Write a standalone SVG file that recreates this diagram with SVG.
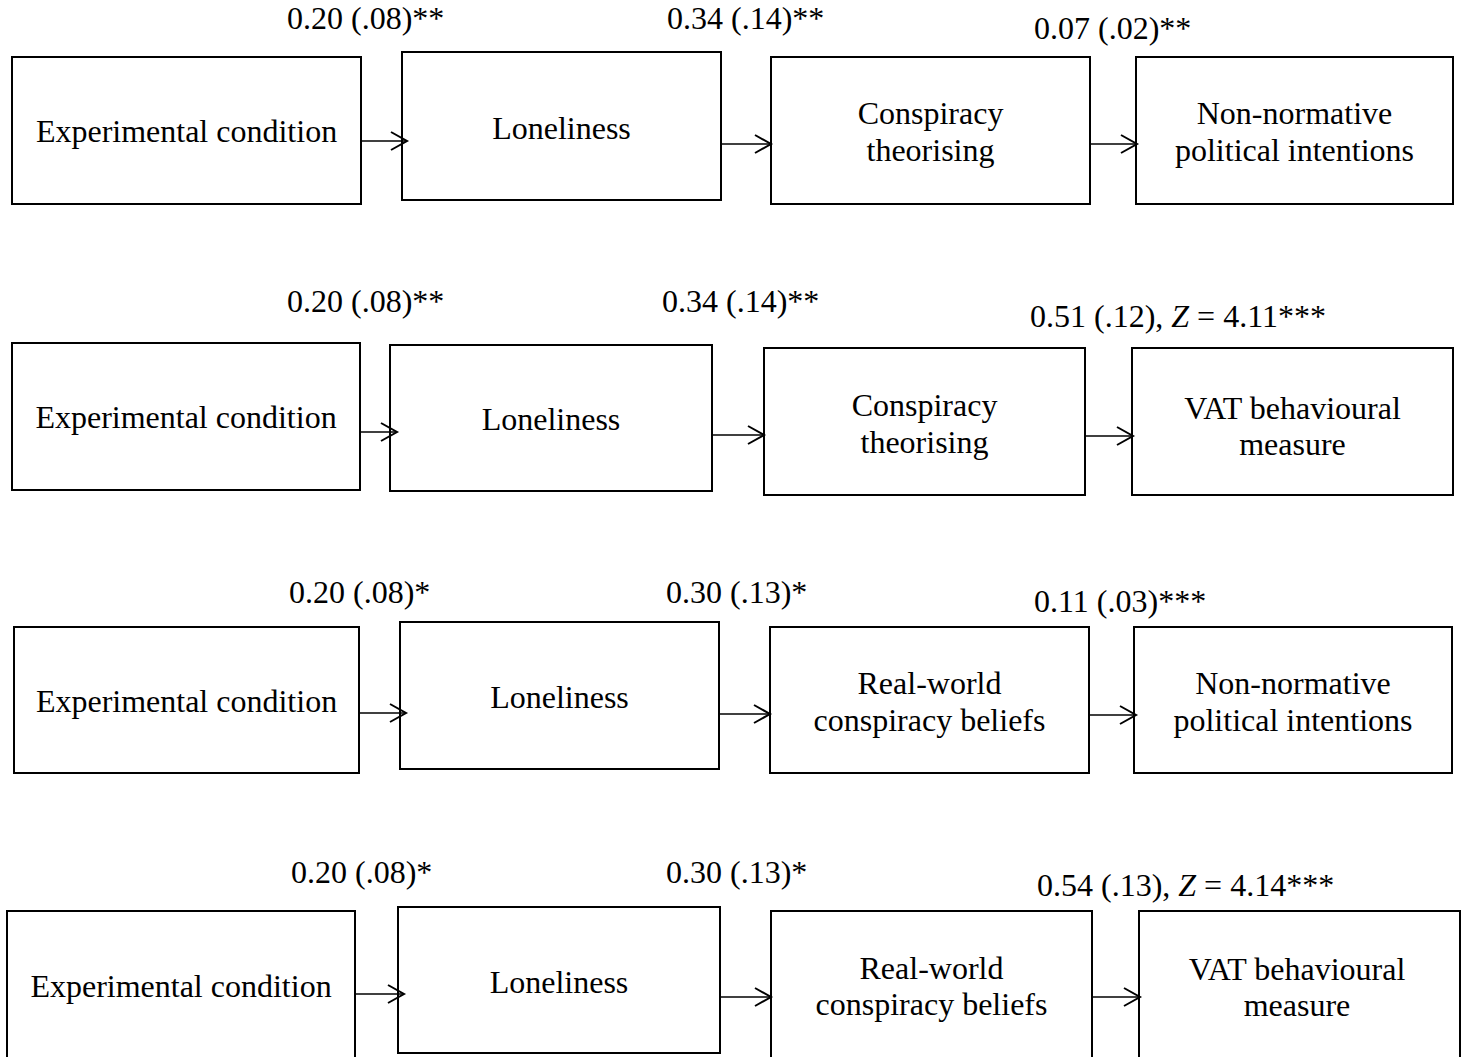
<svg xmlns="http://www.w3.org/2000/svg" width="1464" height="1057" viewBox="0 0 1464 1057">
<defs>
<style>
.box{fill:#fff;stroke:#000;stroke-width:2}
.t{font-family:"Liberation Serif","Times New Roman",serif;font-size:32px;fill:#000}
.c{text-anchor:middle}
.a{stroke:#000;stroke-width:1.6;fill:none}
.h{stroke:#000;stroke-width:2;fill:none}
</style>
</defs>
<rect width="1464" height="1057" fill="#fff"/>
<!-- Row 1 -->
<g id="r1-exp"><rect class="box" x="12" y="57" width="349" height="147"/><text class="t c" x="186.5" y="142">Experimental condition</text></g>
<g id="r1-lon"><rect class="box" x="402" y="52" width="319" height="148"/><text class="t c" x="561.5" y="139">Loneliness</text></g>
<g id="r1-con"><rect class="box" x="771" y="57" width="319" height="147"/><text class="t c" x="930.5" y="124">Conspiracy</text><text class="t c" x="930.5" y="161">theorising</text></g>
<g id="r1-out"><rect class="box" x="1136" y="57" width="317" height="147"/><text class="t c" x="1294.5" y="124">Non-normative</text><text class="t c" x="1294.5" y="161">political intentions</text></g>
<!-- Row 2 -->
<g id="r2-exp"><rect class="box" x="12" y="343" width="348" height="147"/><text class="t c" x="186" y="428">Experimental condition</text></g>
<g id="r2-lon"><rect class="box" x="390" y="345" width="322" height="146"/><text class="t c" x="551" y="430">Loneliness</text></g>
<g id="r2-con"><rect class="box" x="764" y="348" width="321" height="147"/><text class="t c" x="924.5" y="416">Conspiracy</text><text class="t c" x="924.5" y="453">theorising</text></g>
<g id="r2-out"><rect class="box" x="1132" y="348" width="321" height="147"/><text class="t c" x="1292.5" y="419">VAT behavioural</text><text class="t c" x="1292.5" y="455">measure</text></g>
<!-- Row 3 -->
<g id="r3-exp"><rect class="box" x="14" y="627" width="345" height="146"/><text class="t c" x="186.5" y="712">Experimental condition</text></g>
<g id="r3-lon"><rect class="box" x="400" y="622" width="319" height="147"/><text class="t c" x="559.5" y="708">Loneliness</text></g>
<g id="r3-con"><rect class="box" x="770" y="627" width="319" height="146"/><text class="t c" x="929.5" y="694">Real-world</text><text class="t c" x="929.5" y="731">conspiracy beliefs</text></g>
<g id="r3-out"><rect class="box" x="1134" y="627" width="318" height="146"/><text class="t c" x="1293" y="694">Non-normative</text><text class="t c" x="1293" y="731">political intentions</text></g>
<!-- Row 4 -->
<g id="r4-exp"><rect class="box" x="7" y="911" width="348" height="150"/><text class="t c" x="181" y="997">Experimental condition</text></g>
<g id="r4-lon"><rect class="box" x="398" y="907" width="322" height="146"/><text class="t c" x="559" y="993">Loneliness</text></g>
<g id="r4-con"><rect class="box" x="771" y="911" width="321" height="150"/><text class="t c" x="931.5" y="979">Real-world</text><text class="t c" x="931.5" y="1015">conspiracy beliefs</text></g>
<g id="r4-out"><rect class="box" x="1139" y="911" width="321" height="150"/><text class="t c" x="1297" y="980">VAT behavioural</text><text class="t c" x="1297" y="1016">measure</text></g>
<!-- Connectors -->
<g id="connectors">
<path class="a" d="M361 141H407"/><path class="h" d="M391 132L407 141L391 150"/>
<path class="a" d="M721 144H771"/><path class="h" d="M755 135L771 144L755 153"/>
<path class="a" d="M1090 144H1137"/><path class="h" d="M1121 135L1137 144L1121 153"/>
<path class="a" d="M360 432H397"/><path class="h" d="M381 423L397 432L381 441"/>
<path class="a" d="M712 435H764"/><path class="h" d="M748 426L764 435L748 444"/>
<path class="a" d="M1085 436H1133"/><path class="h" d="M1117 427L1133 436L1117 445"/>
<path class="a" d="M359 713H406"/><path class="h" d="M390 704L406 713L390 722"/>
<path class="a" d="M719 714H770"/><path class="h" d="M754 705L770 714L754 723"/>
<path class="a" d="M1089 715H1136"/><path class="h" d="M1120 706L1136 715L1120 724"/>
<path class="a" d="M355 994H404"/><path class="h" d="M388 985L404 994L388 1003"/>
<path class="a" d="M720 997H771"/><path class="h" d="M755 988L771 997L755 1006"/>
<path class="a" d="M1092 997H1140"/><path class="h" d="M1124 988L1140 997L1124 1006"/>
</g>
<!-- Path coefficients -->
<g id="labels">
<text class="t" x="287" y="29">0.20 (.08)**</text>
<text class="t" x="667" y="29">0.34 (.14)**</text>
<text class="t" x="1034" y="39">0.07 (.02)**</text>
<text class="t" x="287" y="312">0.20 (.08)**</text>
<text class="t" x="662" y="312">0.34 (.14)**</text>
<text class="t" x="1030" y="327">0.51 (.12), <tspan font-style="italic">Z</tspan> = 4.11***</text>
<text class="t" x="289" y="603">0.20 (.08)*</text>
<text class="t" x="666" y="603">0.30 (.13)*</text>
<text class="t" x="1034" y="612">0.11 (.03)***</text>
<text class="t" x="291" y="883">0.20 (.08)*</text>
<text class="t" x="666" y="883">0.30 (.13)*</text>
<text class="t" x="1037" y="896">0.54 (.13), <tspan font-style="italic">Z</tspan> = 4.14***</text>
</g>
</svg>
